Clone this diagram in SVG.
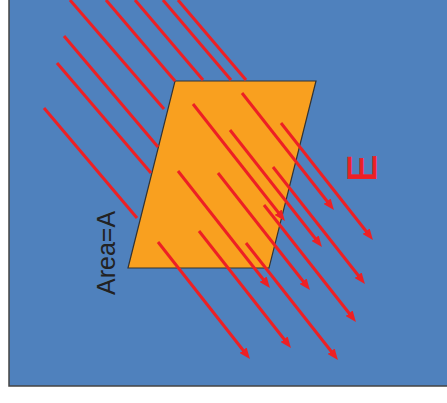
<svg xmlns="http://www.w3.org/2000/svg" width="447" height="403" viewBox="0 0 447 403">
<style>
.ray{stroke:#ED2024;stroke-width:3;fill:none}
.arr{marker-end:url(#ah)}
.lbl{font-family:"Liberation Sans",Arial,sans-serif}
</style>
<defs>
<marker id="ah" markerUnits="userSpaceOnUse" markerWidth="11" markerHeight="9" refX="4.5" refY="4.5" orient="auto" viewBox="0 0 11 9">
<path d="M0,0 L11,4.5 L0,9 z" fill="#ED2024"/>
</marker>
</defs>
<rect x="0" y="0" width="447" height="403" fill="#ffffff"/>
<g id="background">
<rect x="9" y="-3" width="442" height="389" fill="#4F81BD" stroke="#444" stroke-width="1.5"/>
</g>
<g id="area">
<polygon points="175,81 316,81 269,268 128,268" fill="#F9A01F" stroke="#333" stroke-width="1.2"/>
</g>
<g id="connectors">
<g id="behind">
<line class="ray" x1="70" y1="0" x2="164" y2="109"/>
<line class="ray" x1="64" y1="36" x2="158" y2="147"/>
<line class="ray" x1="57" y1="63" x2="151" y2="173"/>
<line class="ray" x1="44" y1="108" x2="137" y2="218"/>
<line class="ray" x1="106" y1="0" x2="175" y2="81"/>
<line class="ray" x1="135" y1="0" x2="203" y2="80"/>
<line class="ray" x1="163" y1="0" x2="231" y2="80"/>
<line class="ray" x1="178" y1="0" x2="246" y2="80"/>
</g>
<g id="arrows">
<line class="ray arr" x1="158" y1="242" x2="245.9" y2="353.8"/>
<line class="ray arr" x1="199" y1="231" x2="286.9" y2="342.8"/>
<line class="ray arr" x1="246" y1="243" x2="333.9" y2="354.8"/>
<line class="ray arr" x1="178" y1="171" x2="265.9" y2="282.8"/>
<line class="ray arr" x1="218" y1="173" x2="305.9" y2="284.8"/>
<line class="ray arr" x1="264" y1="205" x2="351.9" y2="316.8"/>
<line class="ray arr" x1="230" y1="130" x2="317.9" y2="241.8"/>
<line class="ray arr" x1="273" y1="167" x2="360.9" y2="278.8"/>
<line class="ray arr" x1="242" y1="93" x2="329.9" y2="204.8"/>
<line class="ray arr" x1="281" y1="123" x2="368.9" y2="234.8"/>
<line class="ray arr" x1="193" y1="104" x2="280.9" y2="215.8"/>
</g>
</g>
<g id="label-area">
<text class="lbl" transform="translate(115,295) rotate(-90)" font-size="25" fill="#222">Area=A</text>
</g>
<g id="label-E">
<text class="lbl" transform="translate(376,182) rotate(-90)" font-size="41" fill="#ED2024" stroke="#ED2024" stroke-width="0.8">E</text>
</g>
</svg>
